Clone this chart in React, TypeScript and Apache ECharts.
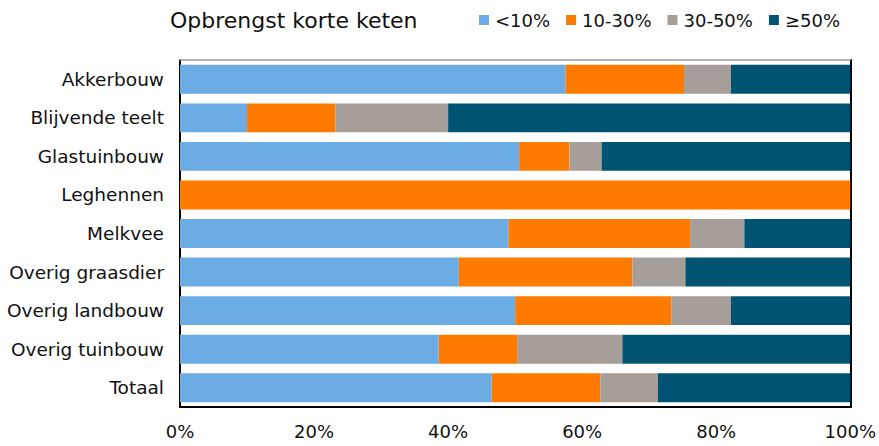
import React, { useEffect, useRef } from "react";
import * as echarts from "echarts";

const categories = [
  "Akkerbouw",
  "Blijvende teelt",
  "Glastuinbouw",
  "Leghennen",
  "Melkvee",
  "Overig graasdier",
  "Overig landbouw",
  "Overig tuinbouw",
  "Totaal",
];

const seriesNames = ["<10%", "10-30%", "30-50%", "≥50%"];

const lt10 = [57.5, 10.0, 50.6, 0, 49.0, 41.6, 50.0, 38.6, 46.5];
const p10to30 = [17.7, 13.2, 7.5, 100, 27.1, 25.9, 23.3, 11.7, 16.2];
const p30to50 = [7.0, 16.8, 4.8, 0, 8.1, 7.9, 8.9, 15.7, 8.6];
const ge50 = [17.8, 60.0, 37.1, 0, 15.8, 24.6, 17.8, 34.0, 28.7];

const xTicks = [0, 20, 40, 60, 80, 100];

const colors = ["#6AACE3", "#FF7B00", "#A59E99", "#005473"];

const FONT = "'DejaVu Sans', Verdana, sans-serif";

export default function App() {
  const ref = useRef<HTMLDivElement>(null);

  useEffect(() => {
    if (!ref.current) return;
    const chart = echarts.init(ref.current, undefined, { renderer: "svg" });
    const values = [lt10, p10to30, p30to50, ge50];
    chart.setOption({
      animation: false,
      backgroundColor: "#ffffff",
      textStyle: { fontFamily: FONT },
      title: {
        text: "Opbrengst korte keten",
        left: 170,
        top: 9,
        padding: 0,
        textStyle: { fontFamily: FONT, fontSize: 22, fontWeight: "normal", color: "#111" },
      },
      legend: {
        left: 479,
        top: 11,
        padding: 0,
        itemWidth: 10,
        itemHeight: 10,
        itemGap: 16,
        icon: "rect",
        data: seriesNames,
        textStyle: { fontFamily: FONT, fontSize: 18, color: "#111", padding: [0, 0, 0, 1] },
      },
      grid: { left: 180, right: 28, top: 60, bottom: 39, containLabel: false },
      xAxis: [
        {
          type: "value",
          min: 0,
          max: 100,
          interval: 20,
          position: "bottom",
          axisLine: { show: true, lineStyle: { color: "#000", width: 2 } },
          axisTick: { show: false },
          splitLine: { show: false },
          axisLabel: {
            margin: 15,
            fontFamily: FONT,
            fontSize: 18,
            color: "#111",
            formatter: (v: number) => (xTicks.includes(v) ? `${v}%` : ""),
          },
        },
        {
          type: "value",
          min: 0,
          max: 100,
          position: "top",
          axisLine: { show: true, lineStyle: { color: "#9A9A9A", width: 1.5 } },
          axisTick: { show: false },
          splitLine: { show: false },
          axisLabel: { show: false },
        },
      ],
      yAxis: [
        {
          type: "category",
          data: categories,
          inverse: true,
          position: "left",
          axisLine: { show: true, onZero: false, lineStyle: { color: "#000", width: 2 } },
          axisTick: { show: false },
          axisLabel: { margin: 16, fontFamily: FONT, fontSize: 18.5, color: "#111" },
        },
        {
          type: "category",
          data: categories,
          inverse: true,
          position: "right",
          axisLine: { show: true, onZero: false, lineStyle: { color: "#000", width: 2 } },
          axisTick: { show: false },
          axisLabel: { show: false },
        },
      ],
      series: seriesNames.map((name, i) => ({
        name,
        type: "bar",
        stack: "total",
        xAxisIndex: 0,
        yAxisIndex: 0,
        barCategoryGap: "25%",
        itemStyle: { color: colors[i] },
        data: values[i],
      })),
    });
    return () => chart.dispose();
  }, []);

  return (
    <div
      ref={ref}
      style={{ position: "fixed", left: 0, top: 0, width: 879, height: 446 }}
    />
  );
}
